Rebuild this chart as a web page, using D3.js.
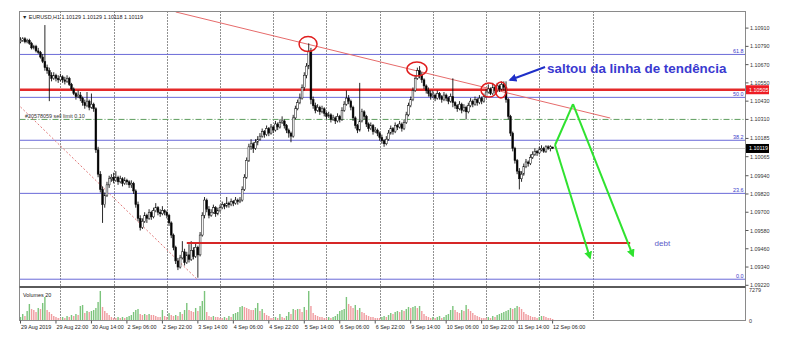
<!DOCTYPE html>
<html lang="en">
<head>
<meta charset="utf-8">
<title>EURUSD,H1</title>
<script src="https://d3js.org/d3.v7.min.js"></script>
<style>
	body { margin: 0; background: #fff; }
	svg { display: block; }
	text { font-family: "Liberation Sans", Arial, sans-serif; }
</style>
</head>
<body>
<script>

//Width and height
var w = 792;
var h = 341;

// H1 bars, 29 Aug 06:00 .. 12 Sep 06:00
var opens = [1.1082,1.1083,1.1084,1.1082,1.1083,1.1081,1.1078,1.1079,1.1076,1.1075,1.1072,1.1069,
	1.1065,1.1063,1.1060,1.1058,1.1060,1.1058,1.1057,1.1059,1.1057,1.1056,1.1058,1.1054,
	1.1051,1.1048,1.1046,1.1047,1.1045,1.1042,1.1040,1.1043,1.1039,1.1041,1.1038,1.1011,
	1.0995,1.0985,1.0975,1.0981,1.0988,1.0992,1.0993,1.0991,1.0993,1.0990,1.0992,1.0989,
	1.0991,1.0990,1.0988,1.0989,1.0984,1.0975,1.0966,1.0960,1.0964,1.0968,1.0966,1.0970,
	1.0967,1.0971,1.0973,1.0970,1.0969,1.0971,1.0970,1.0968,1.0963,1.0955,1.0947,1.0938,
	1.0934,1.0940,1.0944,1.0937,1.0942,1.0939,1.0945,1.0941,1.0947,1.0942,1.0955,1.0968,
	1.0978,1.0972,1.0968,1.0970,1.0973,1.0969,1.0971,1.0973,1.0975,1.0974,1.0976,1.0975,
	1.0977,1.0976,1.0978,1.0977,1.0978,1.0985,1.0993,1.1004,1.1013,1.1015,1.1012,1.1016,
	1.1018,1.1020,1.1023,1.1021,1.1025,1.1022,1.1026,1.1024,1.1028,1.1026,1.1029,1.1030,
	1.1027,1.1024,1.1022,1.1020,1.1032,1.1038,1.1042,1.1045,1.1052,1.1060,1.1066,1.1076,
	1.1044,1.1040,1.1037,1.1039,1.1036,1.1038,1.1035,1.1033,1.1034,1.1031,1.1032,1.1030,
	1.1033,1.1031,1.1037,1.1041,1.1045,1.1043,1.1039,1.1032,1.1027,1.1024,1.1030,1.1036,
	1.1033,1.1028,1.1025,1.1027,1.1023,1.1024,1.1022,1.1019,1.1017,1.1015,1.1018,1.1022,
	1.1025,1.1023,1.1027,1.1026,1.1028,1.1025,1.1029,1.1034,1.1040,1.1044,1.1050,1.1058,
	1.1063,1.1060,1.1057,1.1053,1.1050,1.1048,1.1046,1.1047,1.1045,1.1048,1.1046,1.1044,
	1.1047,1.1045,1.1043,1.1046,1.1042,1.1040,1.1038,1.1041,1.1037,1.1039,1.1036,1.1040,
	1.1043,1.1041,1.1044,1.1042,1.1045,1.1043,1.1046,1.1049,1.1051,1.1048,1.1052,1.1050,
	1.1053,1.1051,1.1054,1.1052,1.1044,1.1033,1.1022,1.1012,1.1004,1.0997,1.0992,1.0995,
	1.1000,1.1003,1.1002,1.1006,1.1008,1.1010,1.1009,1.1011,1.1012,1.1010,1.1013,1.1012,
	1.10129];

var highs = [1.1085,1.1085,1.1085,1.1084,1.1084,1.1082,1.1080,1.1080,1.1078,1.1076,1.1074,1.1093,
	1.1067,1.1065,1.1062,1.1062,1.1061,1.1060,1.1061,1.1060,1.1059,1.1060,1.1059,1.1055,
	1.1052,1.1049,1.1050,1.1049,1.1046,1.1044,1.1049,1.1044,1.1048,1.1042,1.1039,1.1013,
	1.0997,1.0987,1.0983,1.0990,1.0994,1.0995,1.0996,1.0997,1.0994,1.0994,1.0993,1.0993,
	1.0992,1.0991,1.0991,1.0990,1.0985,1.0977,1.0968,1.0966,1.0970,1.0969,1.0972,1.0971,
	1.0973,1.0976,1.0974,1.0972,1.0974,1.0972,1.0971,1.0969,1.0964,1.0956,1.0948,1.0940,
	1.0942,1.0951,1.0946,1.0944,1.0949,1.0951,1.0947,1.0950,1.0948,1.0957,1.0970,1.0980,
	1.0979,1.0974,1.0972,1.0975,1.0974,1.0973,1.0975,1.0977,1.0976,1.0980,1.0977,1.0979,
	1.0978,1.0980,1.0979,1.0980,1.0987,1.0995,1.1006,1.1015,1.1018,1.1016,1.1018,1.1020,
	1.1022,1.1025,1.1024,1.1027,1.1026,1.1028,1.1027,1.1030,1.1029,1.1031,1.1033,1.1031,
	1.1028,1.1025,1.1023,1.1034,1.1040,1.1044,1.1048,1.1054,1.1062,1.1068,1.1081,1.1078,
	1.1046,1.1042,1.1041,1.1040,1.1040,1.1039,1.1036,1.1036,1.1035,1.1034,1.1033,1.1035,
	1.1034,1.1039,1.1043,1.1050,1.1047,1.1044,1.1040,1.1033,1.1028,1.1055,1.1038,1.1037,
	1.1034,1.1029,1.1029,1.1028,1.1026,1.1025,1.1023,1.1021,1.1018,1.1020,1.1024,1.1027,
	1.1026,1.1029,1.1028,1.1030,1.1029,1.1031,1.1036,1.1042,1.1046,1.1052,1.1060,1.1065,
	1.1066,1.1062,1.1058,1.1054,1.1052,1.1050,1.1050,1.1048,1.1050,1.1049,1.1047,1.1049,
	1.1048,1.1046,1.1048,1.1058,1.1043,1.1041,1.1043,1.1042,1.1041,1.1040,1.1042,1.1045,
	1.1044,1.1046,1.1045,1.1047,1.1046,1.1048,1.1051,1.1054,1.1052,1.1055,1.1053,1.1055,
	1.1054,1.1056,1.1056,1.1056,1.1045,1.1034,1.1023,1.1013,1.1005,1.0999,1.0997,1.1002,
	1.1005,1.1004,1.1008,1.1010,1.1012,1.1011,1.1013,1.1014,1.1013,1.1014,1.1014,1.1014,
	1.10129];

var lows = [1.1081,1.1082,1.1081,1.1081,1.1080,1.1077,1.1077,1.1075,1.1074,1.1071,1.1068,1.1063,
	1.1061,1.1043,1.1056,1.1057,1.1056,1.1055,1.1056,1.1055,1.1054,1.1055,1.1053,1.1050,
	1.1047,1.1044,1.1045,1.1043,1.1040,1.1038,1.1039,1.1037,1.1038,1.1036,1.1009,1.0993,
	1.0983,1.0963,1.0973,1.0980,1.0986,1.0990,1.0989,1.0990,1.0988,1.0989,1.0987,1.0988,
	1.0988,1.0986,1.0986,1.0982,1.0973,1.0964,1.0958,1.0959,1.0963,1.0963,1.0965,1.0965,
	1.0966,1.0970,1.0968,1.0967,1.0968,1.0968,1.0966,1.0961,1.0953,1.0945,1.0936,1.0932,
	1.0933,1.0939,1.0935,1.0936,1.0937,1.0938,1.0939,1.0940,1.0927,1.0941,1.0954,1.0966,
	1.0970,1.0966,1.0967,1.0969,1.0967,1.0968,1.0970,1.0972,1.0972,1.0973,1.0973,1.0974,
	1.0974,1.0975,1.0975,1.0976,1.0977,1.0984,1.0992,1.1003,1.1011,1.1009,1.1011,1.1014,
	1.1017,1.1019,1.1019,1.1020,1.1020,1.1021,1.1022,1.1023,1.1024,1.1025,1.1028,1.1025,
	1.1022,1.1019,1.1016,1.1019,1.1031,1.1037,1.1041,1.1044,1.1050,1.1058,1.1064,1.1041,
	1.1038,1.1035,1.1036,1.1034,1.1035,1.1033,1.1031,1.1032,1.1029,1.1030,1.1028,1.1029,
	1.1029,1.1030,1.1036,1.1040,1.1041,1.1037,1.1030,1.1025,1.1022,1.1023,1.1029,1.1031,
	1.1026,1.1023,1.1024,1.1021,1.1022,1.1020,1.1017,1.1015,1.1013,1.1014,1.1017,1.1021,
	1.1021,1.1022,1.1024,1.1025,1.1023,1.1024,1.1028,1.1033,1.1039,1.1043,1.1049,1.1057,
	1.1058,1.1055,1.1051,1.1048,1.1046,1.1044,1.1045,1.1043,1.1044,1.1044,1.1042,1.1043,
	1.1043,1.1041,1.1042,1.1039,1.1038,1.1036,1.1037,1.1035,1.1036,1.1031,1.1035,1.1039,
	1.1039,1.1040,1.1040,1.1041,1.1041,1.1042,1.1045,1.1048,1.1047,1.1047,1.1048,1.1049,
	1.1049,1.1050,1.1050,1.1042,1.1031,1.1020,1.1010,1.1002,1.0995,1.0985,1.0990,1.0994,
	1.0999,1.1000,1.1001,1.1005,1.1007,1.1007,1.1008,1.1010,1.1009,1.1009,1.1011,1.1010,
	1.10118];

var closes = [1.1083,1.1084,1.1082,1.1083,1.1081,1.1078,1.1079,1.1076,1.1075,1.1072,1.1069,1.1065,
	1.1063,1.1060,1.1058,1.1060,1.1058,1.1057,1.1059,1.1057,1.1056,1.1058,1.1054,1.1051,
	1.1048,1.1046,1.1047,1.1045,1.1042,1.1040,1.1043,1.1039,1.1041,1.1038,1.1011,1.0995,
	1.0985,1.0975,1.0981,1.0988,1.0992,1.0993,1.0991,1.0993,1.0990,1.0992,1.0989,1.0991,
	1.0990,1.0988,1.0989,1.0984,1.0975,1.0966,1.0960,1.0964,1.0968,1.0966,1.0970,1.0967,
	1.0971,1.0973,1.0970,1.0969,1.0971,1.0970,1.0968,1.0963,1.0955,1.0947,1.0938,1.0934,
	1.0940,1.0944,1.0937,1.0942,1.0939,1.0945,1.0941,1.0947,1.0942,1.0955,1.0968,1.0978,
	1.0972,1.0968,1.0970,1.0973,1.0969,1.0971,1.0973,1.0975,1.0974,1.0976,1.0975,1.0977,
	1.0976,1.0978,1.0977,1.0978,1.0985,1.0993,1.1004,1.1013,1.1015,1.1012,1.1016,1.1018,
	1.1020,1.1023,1.1021,1.1025,1.1022,1.1026,1.1024,1.1028,1.1026,1.1029,1.1030,1.1027,
	1.1024,1.1022,1.1020,1.1032,1.1038,1.1042,1.1045,1.1052,1.1060,1.1066,1.1076,1.1044,
	1.1040,1.1037,1.1039,1.1036,1.1038,1.1035,1.1033,1.1034,1.1031,1.1032,1.1030,1.1033,
	1.1031,1.1037,1.1041,1.1045,1.1043,1.1039,1.1032,1.1027,1.1024,1.1030,1.1036,1.1033,
	1.1028,1.1025,1.1027,1.1023,1.1024,1.1022,1.1019,1.1017,1.1015,1.1018,1.1022,1.1025,
	1.1023,1.1027,1.1026,1.1028,1.1025,1.1029,1.1034,1.1040,1.1044,1.1050,1.1058,1.1063,
	1.1060,1.1057,1.1053,1.1050,1.1048,1.1046,1.1047,1.1045,1.1048,1.1046,1.1044,1.1047,
	1.1045,1.1043,1.1046,1.1042,1.1040,1.1038,1.1041,1.1037,1.1039,1.1036,1.1040,1.1043,
	1.1041,1.1044,1.1042,1.1045,1.1043,1.1046,1.1049,1.1051,1.1048,1.1052,1.1050,1.1053,
	1.1051,1.1054,1.1052,1.1044,1.1033,1.1022,1.1012,1.1004,1.0997,1.0992,1.0995,1.1000,
	1.1003,1.1002,1.1006,1.1008,1.1010,1.1009,1.1011,1.1012,1.1010,1.1013,1.1012,1.1013,
	1.10119];

var volumes = [705,1410,940,2115,3760,2585,2350,1880,2820,2585,3995,5405,2350,1880,1410,940,705,470,
	470,705,470,940,705,1175,940,1410,1175,3290,3525,1645,2115,1880,2115,2350,2820,4230,6815,3055,2115,1645,1175,705,
	470,470,705,470,705,470,705,940,1175,1880,2350,2585,1410,1175,1410,1175,1410,1175,1175,940,705,705,2350,940,
	705,1645,1175,940,1175,940,1880,1410,2350,3995,2350,2115,1880,2820,2115,3290,4465,6815,1880,940,705,940,705,705,
	470,470,705,470,940,705,1410,1645,1880,3055,3290,3055,2820,2585,2350,2350,2820,3995,2115,2585,1645,1175,940,470,
	470,705,470,1410,705,470,940,1880,1410,2585,2350,2585,2585,1880,3055,2350,6815,3290,1645,1175,940,705,705,470,
	470,705,470,705,940,1410,2115,2350,2585,5405,3760,3290,2820,3525,2350,2820,1880,1645,1175,940,705,705,470,470,
	470,705,940,705,1175,1645,1410,1880,2115,1880,2350,2115,2585,3055,2820,3055,3290,2820,3290,2115,1410,940,705,470,
	705,470,705,940,470,705,1175,1410,2350,3290,2350,1880,1645,2350,2115,3525,2585,2115,1645,1175,940,705,470,470,
	470,705,470,940,705,1175,1410,1645,1880,2115,2350,2820,2585,2820,3290,3055,2585,1880,1410,1175,940,705,705,470,
	705,940,940,705,470,470,235];

// time axis labels, one every 16 bars
var timeLabels = ["29 Aug 2019", "29 Aug 22:00", "30 Aug 14:00", "2 Sep 06:00", "2 Sep 22:00",
	"3 Sep 14:00", "4 Sep 06:00", "4 Sep 22:00", "5 Sep 14:00", "6 Sep 06:00", "6 Sep 22:00",
	"9 Sep 14:00", "10 Sep 06:00", "10 Sep 22:00", "11 Sep 14:00", "12 Sep 06:00"];
var labelStep = 16;
// bar index of each day start (vertical grid)
var dayStarts = [18, 42, 66, 90, 114, 138, 162, 186, 210, 234, 258];

var priceTicks = [1.09220, 1.09340, 1.09460, 1.09580, 1.09700, 1.09820, 1.09940, 1.10065,
	1.10185, 1.10310, 1.10430, 1.10550, 1.10670, 1.10790, 1.10910];
var volumeTicks = [0, 7279];

// fibonacci retracement
var fibLevels = [0, 23.6, 38.2, 50, 61.8];
var fibLow = 1.0926, fibHigh = 1.1165;

var title = "\u25BC EURUSD,H1  1.10129 1.10129 1.10118 1.10119";
var bidPrice = 1.10119;
var levelPrice = 1.10505;
var sellLimit = { price: 1.10310, label: "#20578059 sell limit 0.10" };

// drawn objects (bar index, price)
var trendLine = [[70, 1.11016], [266, 1.10319]];
var dottedLine = [[0, 1.10392], [80, 1.09255]];
var debtLine = { from: 75, to: 275, price: 1.09498, label: "debt", labelAt: 286 };
var greenArrows = [
	[[241.1, 1.10142], [256.9, 1.09399]],
	[[249.2, 1.10411], [276.3, 1.09413]]
];
var greenUp = [[241.1, 1.10142], [249.2, 1.10411]];
var blueArrow = [[236.6, 1.10654], [220.8, 1.10569]];
var note = { at: 237.5, price: 1.10615, text: "saltou da linha de tend\u00eancia" };
var circles = [
	{ at: 129.7, price: 1.10805, rx: 9, ry: 7.5 },
	{ at: 178.8, price: 1.10641, rx: 10, ry: 7 },
	{ at: 211.3, price: 1.10503, rx: 8, ry: 7 },
	{ at: 216.7, price: 1.10503, rx: 5.5, ry: 8 }
];

// layout ("top" is taken by window.top, so topY)
var leftX = 19.5, rightX = 745.5, topY = 11.5, mainBottom = 286, volTop = 288, volBottom = 320.5;

var xScale = d3.scaleLinear().domain([0, 240]).range([20.5, 552.6]);
var yScale = d3.scaleLinear().domain([1.0922, 1.1091]).range([285.3, 28.1]);
var vScale = d3.scaleLinear().domain([0, 7279]).range([320, 289]);

var svg = d3.select("body").append("svg")
	.attr("width", w)
	.attr("height", h);

var defs = svg.append("defs");
defs.append("clipPath").attr("id", "mainClip")
	.append("rect").attr("x", leftX).attr("y", topY).attr("width", rightX - leftX).attr("height", mainBottom - topY);
defs.append("clipPath").attr("id", "volClip")
	.append("rect").attr("x", leftX).attr("y", volTop).attr("width", rightX - leftX).attr("height", volBottom - volTop);

function marker(id, color) {
	defs.append("marker").attr("id", id)
		.attr("viewBox", "0 0 10 10").attr("refX", 8).attr("refY", 5)
		.attr("markerWidth", 4).attr("markerHeight", 4)
		.attr("orient", "auto")
		.append("path").attr("d", "M0,0 L10,5 L0,10 z").attr("fill", color);
}
marker("headGreen", "#2fe22f");
marker("headBlue", "#1f2fc8");

var line = d3.line()
	.x(function(d) { return xScale(d[0]); })
	.y(function(d) { return yScale(d[1]); });

//Vertical grid (dotted)
svg.selectAll("line.grid")
	.data(dayStarts)
	.enter()
	.append("line")
	.attr("class", "grid")
	.attr("x1", function(d) { return Math.round(xScale(d)) + 0.5; })
	.attr("x2", function(d) { return Math.round(xScale(d)) + 0.5; })
	.attr("y1", topY)
	.attr("y2", volBottom)
	.attr("stroke", "#222")
	.attr("stroke-width", 1)
	.attr("stroke-dasharray", "1,2");

var main = svg.append("g").attr("clip-path", "url(#mainClip)");

//Fibo levels
main.selectAll("line.fib")
	.data(fibLevels)
	.enter()
	.append("line")
	.attr("x1", leftX).attr("x2", rightX)
	.attr("y1", function(d) { return yScale(fibLow + (fibHigh - fibLow) * d / 100); })
	.attr("y2", function(d) { return yScale(fibLow + (fibHigh - fibLow) * d / 100); })
	.attr("stroke", "#6a6ad8")
	.attr("stroke-width", 1);

main.selectAll("text.fib")
	.data(fibLevels)
	.enter()
	.append("text")
	.attr("x", rightX - 2)
	.attr("y", function(d) { return yScale(fibLow + (fibHigh - fibLow) * d / 100) - 1.5; })
	.attr("text-anchor", "end")
	.attr("font-size", "5.4px")
	.attr("fill", "#3a3ac8")
	.text(function(d) { return d.toFixed(1); });

//Bid line
main.append("line")
	.attr("x1", leftX).attr("x2", rightX)
	.attr("y1", yScale(bidPrice)).attr("y2", yScale(bidPrice))
	.attr("stroke", "#c4c4c4").attr("stroke-width", 1);

//Sell limit
main.append("line")
	.attr("x1", leftX).attr("x2", rightX)
	.attr("y1", yScale(sellLimit.price)).attr("y2", yScale(sellLimit.price))
	.attr("stroke", "#5e9e5e").attr("stroke-width", 1)
	.attr("stroke-dasharray", "6,2,1,2");
main.append("text")
	.attr("x", 25).attr("y", yScale(sellLimit.price) - 1.5)
	.attr("font-size", "5.4px").attr("fill", "#333")
	.text(sellLimit.label);

//Red level
main.append("line")
	.attr("x1", leftX).attr("x2", rightX)
	.attr("y1", yScale(levelPrice)).attr("y2", yScale(levelPrice))
	.attr("stroke", "#e42a2a").attr("stroke-width", 2.4);

//Trend lines
main.append("path").datum(trendLine)
	.attr("d", line).attr("fill", "none")
	.attr("stroke", "#e66b6b").attr("stroke-width", 1);
main.append("path").datum(dottedLine)
	.attr("d", line).attr("fill", "none")
	.attr("stroke", "#e07a7a").attr("stroke-width", 1)
	.attr("stroke-dasharray", "2,2");

//Candles
var idx = d3.range(closes.length);
main.selectAll("line.wick")
	.data(idx)
	.enter()
	.append("line")
	.attr("x1", function(i) { return xScale(i); })
	.attr("x2", function(i) { return xScale(i); })
	.attr("y1", function(i) { return yScale(highs[i]); })
	.attr("y2", function(i) { return yScale(lows[i]); })
	.attr("stroke", "#111")
	.attr("stroke-width", 0.9);

main.selectAll("rect.body")
	.data(idx)
	.enter()
	.append("rect")
	.attr("x", function(i) { return xScale(i) - 0.9; })
	.attr("y", function(i) { return yScale(Math.max(opens[i], closes[i])); })
	.attr("width", 1.8)
	.attr("height", function(i) { return Math.max(1, Math.abs(yScale(opens[i]) - yScale(closes[i]))); })
	.attr("fill", function(i) { return closes[i] > opens[i] ? "#fff" : "#000"; })
	.attr("stroke", "#111")
	.attr("stroke-width", 0.5);

//Debt line
main.append("line")
	.attr("x1", xScale(debtLine.from)).attr("x2", xScale(debtLine.to))
	.attr("y1", yScale(debtLine.price)).attr("y2", yScale(debtLine.price))
	.attr("stroke", "#d62626").attr("stroke-width", 2);
main.append("text")
	.attr("x", xScale(debtLine.labelAt)).attr("y", yScale(debtLine.price) + 3)
	.attr("font-size", "8px").attr("fill", "#5a5ac8")
	.text(debtLine.label);

//Green arrows
main.append("path").datum(greenUp)
	.attr("d", line).attr("fill", "none")
	.attr("stroke", "#2fe22f").attr("stroke-width", 2);
main.selectAll("path.garrow")
	.data(greenArrows)
	.enter()
	.append("path")
	.attr("d", line).attr("fill", "none")
	.attr("stroke", "#2fe22f").attr("stroke-width", 2)
	.attr("marker-end", "url(#headGreen)");

//Red circles
main.selectAll("ellipse")
	.data(circles)
	.enter()
	.append("ellipse")
	.attr("cx", function(d) { return xScale(d.at); })
	.attr("cy", function(d) { return yScale(d.price); })
	.attr("rx", function(d) { return d.rx; })
	.attr("ry", function(d) { return d.ry; })
	.attr("fill", "none")
	.attr("stroke", "#e01e1e")
	.attr("stroke-width", 1.5);

//Blue arrow and note
main.append("path").datum(blueArrow)
	.attr("d", line).attr("fill", "none")
	.attr("stroke", "#1f2fc8").attr("stroke-width", 2)
	.attr("marker-end", "url(#headBlue)");
main.append("text")
	.attr("x", xScale(note.at)).attr("y", yScale(note.price))
	.attr("font-size", "13.4px").attr("font-weight", "bold")
	.attr("fill", "#3a3ad0")
	.text(note.text);

//Title
svg.append("text")
	.attr("x", 22).attr("y", 19)
	.attr("font-size", "5.4px").attr("fill", "#222")
	.text(title);

//Volumes
var vol = svg.append("g").attr("clip-path", "url(#volClip)");
vol.selectAll("rect")
	.data(idx)
	.enter()
	.append("rect")
	.attr("x", function(i) { return xScale(i) - 0.7; })
	.attr("y", function(i) { return vScale(volumes[i]); })
	.attr("width", 1.4)
	.attr("height", function(i) { return vScale(0) - vScale(volumes[i]); })
	.attr("fill", function(i) {
		return (i == 0 || volumes[i] > volumes[i - 1]) ? "#7cc47c" : "#f09ca0";
	});
svg.append("text")
	.attr("x", 23).attr("y", 297)
	.attr("font-size", "5.4px").attr("fill", "#222")
	.text("Volumes 20");

//Frames
svg.append("rect")
	.attr("x", leftX).attr("y", topY)
	.attr("width", rightX - leftX).attr("height", volBottom - topY)
	.attr("fill", "none").attr("stroke", "#8a8a8a").attr("stroke-width", 1);
svg.append("rect")
	.attr("x", leftX).attr("y", mainBottom)
	.attr("width", rightX - leftX).attr("height", volTop - mainBottom)
	.attr("fill", "#5a5a5a");

//Price axis
svg.selectAll("line.ptick")
	.data(priceTicks)
	.enter()
	.append("line")
	.attr("x1", rightX).attr("x2", rightX + 3)
	.attr("y1", function(d) { return yScale(d); })
	.attr("y2", function(d) { return yScale(d); })
	.attr("stroke", "#555");
svg.selectAll("text.ptick")
	.data(priceTicks)
	.enter()
	.append("text")
	.attr("x", 750)
	.attr("y", function(d) { return yScale(d) + 2; })
	.attr("font-size", "5.4px").attr("fill", "#333")
	.text(function(d) { return d.toFixed(5); });

function priceTag(p, color) {
	svg.append("rect")
		.attr("x", 746).attr("y", yScale(p) - 4.5)
		.attr("width", 23).attr("height", 9)
		.attr("fill", color);
	svg.append("text")
		.attr("x", 749).attr("y", yScale(p) + 2)
		.attr("font-size", "5.4px").attr("fill", "#fff")
		.text(p.toFixed(5));
}
priceTag(levelPrice, "#ee1c24");
priceTag(bidPrice, "#000");

svg.selectAll("text.vtick")
	.data(volumeTicks)
	.enter()
	.append("text")
	.attr("x", 749)
	.attr("y", function(d) { return vScale(d) + 3; })
	.attr("font-size", "5.4px").attr("fill", "#333")
	.text(function(d) { return d; });

//Time axis
svg.selectAll("line.ttick")
	.data(timeLabels)
	.enter()
	.append("line")
	.attr("x1", function(d, k) { return xScale(k * labelStep); })
	.attr("x2", function(d, k) { return xScale(k * labelStep); })
	.attr("y1", volBottom).attr("y2", volBottom + 3)
	.attr("stroke", "#555");
svg.selectAll("text.ttick")
	.data(timeLabels)
	.enter()
	.append("text")
	.attr("x", function(d, k) { return xScale(k * labelStep) + 0.5; })
	.attr("y", 329)
	.attr("font-size", "5.4px").attr("fill", "#222")
	.text(function(d) { return d; });

</script>
</body>
</html>
